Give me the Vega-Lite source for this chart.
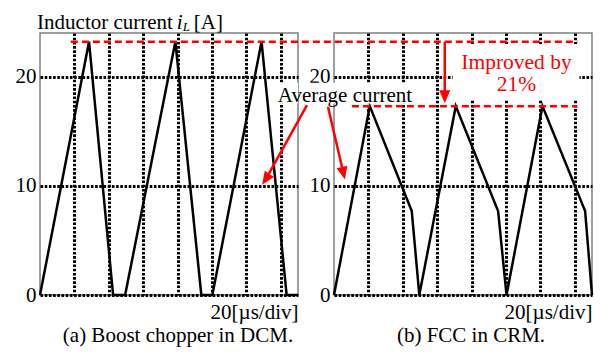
{
  "$schema": "https://vega.github.io/schema/vega-lite/v6.json",
  "background": "white",
  "padding": {"left": 14, "top": 10, "right": 6, "bottom": 4},
  "config": {
    "font": "Liberation Serif",
    "view": {"stroke": "#808080", "strokeWidth": 1.5},
    "axis": {
      "labelFont": "Liberation Serif", "titleFont": "Liberation Serif",
      "labelColor": "black", "titleColor": "black", "titleFontWeight": "normal",
      "labelFontSize": 21, "titleFontSize": 21,
      "gridColor": "black", "gridWidth": 3, "gridDash": [2.6, 1.6], "gridOpacity": 1,
      "domain": false, "ticks": false
    },
    "text": {"font": "Liberation Serif"},
    "title": {"font": "Liberation Serif", "fontSize": 21, "fontWeight": "normal", "color": "black"}
  },
  "datasets": {
    "dcm": [
      {"t": 0, "i": 0}, {"t": 28.5, "i": 23.2}, {"t": 42.5, "i": 0}, {"t": 49.5, "i": 0},
      {"t": 78.7, "i": 23.2}, {"t": 93.8, "i": 0}, {"t": 100.2, "i": 0},
      {"t": 128.8, "i": 23.2}, {"t": 143.4, "i": 0}, {"t": 150, "i": 0}
    ],
    "crm": [
      {"t": 0, "i": 0}, {"t": 20.8, "i": 17.3}, {"t": 45.2, "i": 7.7}, {"t": 49.6, "i": 0},
      {"t": 70.8, "i": 17.3}, {"t": 95.4, "i": 7.7}, {"t": 100.3, "i": 0},
      {"t": 121.2, "i": 17.3}, {"t": 146, "i": 7.7}, {"t": 150, "i": 0}
    ],
    "maskL": [{"t": 135.2, "t2": 150, "i": 17.55, "i2": 19.45}],
    "maskR": [
      {"t": -20, "t2": 47.6, "i": 17.55, "i2": 19.45},
      {"t": 69, "t2": 142.7, "i": 17.9, "i2": 23.0}
    ],
    "refLines": [
      {"t": -153, "t2": 141.5, "i": 23.2},
      {"t": 10.4, "t2": 141.5, "i": 17.3}
    ],
    "arrows": [
      {"t": 64.4, "i": 23.2, "t2": 64.4, "i2": 18.15, "a": 0},
      {"t": -15.7, "i": 17.4, "t2": -39.7, "i2": 10.6, "a": 33.9},
      {"t": -3.5, "i": 17.25, "t2": 5.5, "i2": 11.15, "a": 346.9}
    ],
    "titleMain": [
      {"t": -1.7, "i": 24.4, "label": "Inductor current"},
      {"t": 89.4, "i": 24.4, "label": "[A]"}
    ],
    "titleItalic": [{"t": 79.5, "i": 24.4, "label": "i"}],
    "titleSub": [{"t": 83.0, "i": 24.14, "label": "L"}],
    "noteBlack": [{"t": 6.4, "i": 17.68, "label": "Average current"}],
    "noteRed": [
      {"t": 106.1, "i": 20.73, "label": "Improved by"},
      {"t": 106.1, "i": 18.7, "label": "21%"}
    ]
  },
  "spacing": 36,
  "bounds": "flush",
  "hconcat": [
    {
      "width": 258, "height": 262,
      "title": {"text": "(a) Boost chopper in DCM.", "orient": "bottom", "dx": 9, "offset": 3},
      "layer": [
        {
          "data": {"name": "dcm"},
          "mark": {"type": "line", "color": "black", "strokeWidth": 2.5},
          "encoding": {
            "x": {"field": "t", "type": "quantitative", "scale": {"domain": [0, 150], "nice": false, "zero": false},
                  "axis": {"values": [20, 40, 60, 80, 100, 120, 140], "labels": false, "grid": true, "title": "20[µs/div]", "titleAnchor": "end", "titlePadding": 6}},
            "y": {"field": "i", "type": "quantitative", "scale": {"domain": [0, 24], "nice": false},
                  "axis": {"values": [0, 10, 20], "grid": true, "title": null, "labelPadding": 4, "labelFlush": false, "labelBaseline": "middle", "labelFont": "Liberation Serif"}}
          }
        },
        {"mark": {"type": "rule", "color": "black", "strokeWidth": 2.5}, "encoding": {"y": {"datum": 10, "type": "quantitative"}}},
        {
          "data": {"name": "maskL"},
          "mark": {"type": "rect", "fill": "white"},
          "encoding": {"x": {"field": "t", "type": "quantitative"}, "x2": {"field": "t2"}, "y": {"field": "i", "type": "quantitative"}, "y2": {"field": "i2"}}
        },
        {
          "data": {"name": "titleMain"},
          "mark": {"type": "text", "align": "left", "baseline": "alphabetic", "fontSize": 21, "color": "black", "font": "Liberation Serif"},
          "encoding": {"x": {"field": "t", "type": "quantitative"}, "y": {"field": "i", "type": "quantitative"}, "text": {"field": "label"}}
        },
        {
          "data": {"name": "titleItalic"},
          "mark": {"type": "text", "align": "left", "baseline": "alphabetic", "fontSize": 21, "fontStyle": "italic", "color": "black", "font": "Liberation Serif"},
          "encoding": {"x": {"field": "t", "type": "quantitative"}, "y": {"field": "i", "type": "quantitative"}, "text": {"field": "label"}}
        },
        {
          "data": {"name": "titleSub"},
          "mark": {"type": "text", "align": "left", "baseline": "alphabetic", "fontSize": 13, "fontStyle": "italic", "color": "black", "font": "Liberation Serif"},
          "encoding": {"x": {"field": "t", "type": "quantitative"}, "y": {"field": "i", "type": "quantitative"}, "text": {"field": "label"}}
        }
      ]
    },
    {
      "width": 258, "height": 262,
      "title": {"text": "(b) FCC in CRM.", "orient": "bottom", "dx": 8, "offset": 3},
      "layer": [
        {
          "data": {"name": "crm"},
          "mark": {"type": "line", "color": "black", "strokeWidth": 2.5},
          "encoding": {
            "x": {"field": "t", "type": "quantitative", "scale": {"domain": [0, 150], "nice": false, "zero": false},
                  "axis": {"values": [20, 40, 60, 80, 100, 120, 140], "labels": false, "grid": true, "title": "20[µs/div]", "titleAnchor": "end", "titlePadding": 6}},
            "y": {"field": "i", "type": "quantitative", "scale": {"domain": [0, 24], "nice": false},
                  "axis": {"values": [0, 10, 20], "grid": true, "title": null, "labelPadding": 4, "labelFlush": false, "labelBaseline": "middle", "labelFont": "Liberation Serif"}}
          }
        },
        {"mark": {"type": "rule", "color": "black", "strokeWidth": 2.5}, "encoding": {"y": {"datum": 10, "type": "quantitative"}}},
        {
          "data": {"name": "maskR"},
          "mark": {"type": "rect", "fill": "white"},
          "encoding": {"x": {"field": "t", "type": "quantitative"}, "x2": {"field": "t2"}, "y": {"field": "i", "type": "quantitative"}, "y2": {"field": "i2"}}
        },
        {
          "data": {"name": "refLines"},
          "mark": {"type": "rule", "color": "red", "strokeWidth": 2.5, "strokeDash": [7, 4]},
          "encoding": {"x": {"field": "t", "type": "quantitative"}, "x2": {"field": "t2"}, "y": {"field": "i", "type": "quantitative"}}
        },
        {
          "data": {"name": "arrows"},
          "mark": {"type": "rule", "color": "red", "strokeWidth": 2.5},
          "encoding": {"x": {"field": "t", "type": "quantitative"}, "x2": {"field": "t2"}, "y": {"field": "i", "type": "quantitative"}, "y2": {"field": "i2"}}
        },
        {
          "data": {"name": "arrows"},
          "mark": {"type": "point", "shape": "M0,1L-0.85,-1L0.85,-1Z", "filled": true, "color": "red", "size": 169, "opacity": 1, "strokeWidth": 0},
          "encoding": {"x": {"field": "t2", "type": "quantitative"}, "y": {"field": "i2", "type": "quantitative"}, "angle": {"field": "a", "type": "quantitative", "scale": null}}
        },
        {
          "data": {"name": "noteBlack"},
          "mark": {"type": "text", "align": "center", "baseline": "alphabetic", "fontSize": 21, "color": "black", "font": "Liberation Serif"},
          "encoding": {"x": {"field": "t", "type": "quantitative"}, "y": {"field": "i", "type": "quantitative"}, "text": {"field": "label"}}
        },
        {
          "data": {"name": "noteRed"},
          "mark": {"type": "text", "align": "center", "baseline": "alphabetic", "fontSize": 21.5, "color": "red", "font": "Liberation Serif"},
          "encoding": {"x": {"field": "t", "type": "quantitative"}, "y": {"field": "i", "type": "quantitative"}, "text": {"field": "label"}}
        }
      ]
    }
  ]
}
